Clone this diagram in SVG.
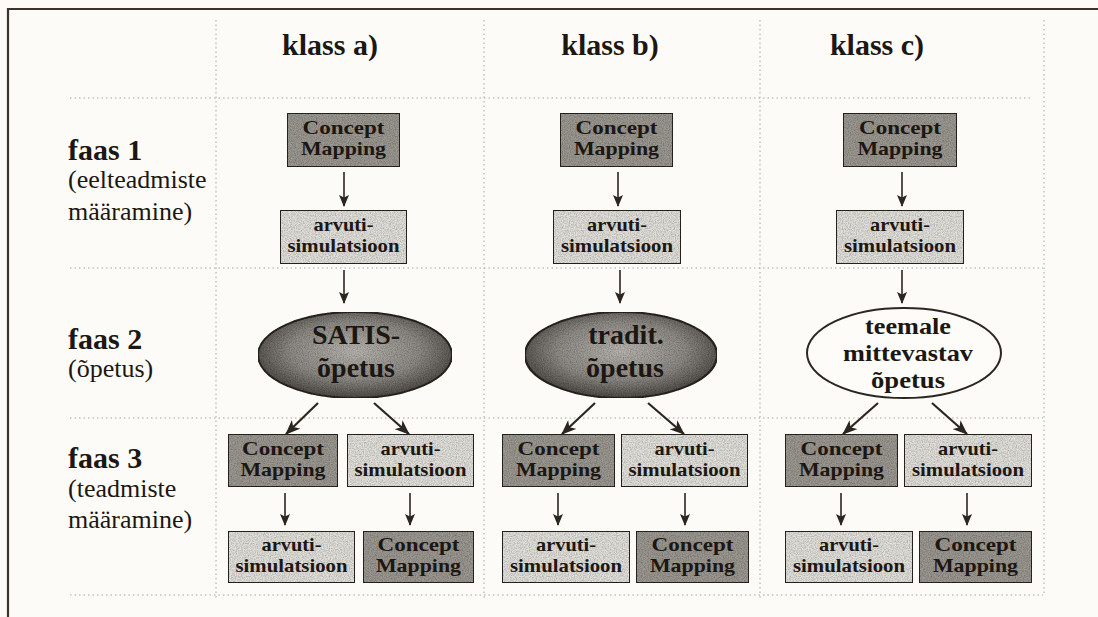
<svg xmlns="http://www.w3.org/2000/svg" width="1098" height="617" viewBox="0 0 1098 617">
<defs>
<style>
.bg{fill:#fcfbf7}
.frame{stroke:#3a342b;stroke-width:2.2;fill:none}
.grid{stroke:#aaa69c;stroke-width:1;stroke-dasharray:1.5 3;fill:none}
.dark{fill:#9b9791;stroke:#2b2620;stroke-width:2;filter:url(#grain)}
.light{fill:#e2e0db;stroke:#2b2620;stroke-width:2;filter:url(#grain)}
.ell{fill:url(#eg);stroke:#2b2620;stroke-width:2;filter:url(#grain)}
.ellw{fill:#fdfcf8;stroke:#2b2620;stroke-width:2}
.bt{font-family:"Liberation Serif","Times New Roman",serif;font-weight:bold;font-size:19px;fill:#1c1712;text-anchor:middle}
.et{font-family:"Liberation Serif","Times New Roman",serif;font-weight:bold;font-size:28px;fill:#1c1712;text-anchor:middle}
.et2{font-family:"Liberation Serif","Times New Roman",serif;font-weight:bold;font-size:23px;fill:#1c1712;text-anchor:middle}
.hd{font-family:"Liberation Serif","Times New Roman",serif;font-weight:bold;font-size:30px;fill:#1c1712;text-anchor:middle}
.ph{font-family:"Liberation Serif","Times New Roman",serif;font-weight:bold;font-size:30px;fill:#1c1712}
.sub{font-family:"Liberation Serif","Times New Roman",serif;font-size:26px;fill:#1c1712}
.arr{stroke:#2b2620;stroke-width:1.6;fill:none;marker-end:url(#ah)}
.arrd{stroke:#2b2620;stroke-width:2.2;fill:none;marker-end:url(#ahd)}
</style>
<radialGradient id="eg" cx="0.5" cy="0.45" r="0.55">
<stop offset="0" stop-color="#b8b5af"/>
<stop offset="0.6" stop-color="#8e8b86"/>
<stop offset="1" stop-color="#4e4a45"/>
</radialGradient>
<filter id="grain" x="0" y="0" width="100%" height="100%">
<feTurbulence type="fractalNoise" baseFrequency="0.85" numOctaves="2" seed="4" result="n"/>
<feColorMatrix in="n" type="matrix" values="0 0 0 0 0  0 0 0 0 0  0 0 0 0 0  0.9 0 0 0 -0.3" result="a"/>
<feComposite in="a" in2="SourceGraphic" operator="in" result="g"/>
<feMerge><feMergeNode in="SourceGraphic"/><feMergeNode in="g"/></feMerge>
</filter>
<marker id="ah" viewBox="0 0 12 10" refX="11" refY="5" markerWidth="12" markerHeight="10" orient="auto" markerUnits="userSpaceOnUse">
<path d="M0,0 L12,5 L0,10 L2.5,5 z" fill="#2b2620"/>
</marker>
<marker id="ahd" viewBox="0 0 15 12" refX="14" refY="6" markerWidth="15" markerHeight="12" orient="auto" markerUnits="userSpaceOnUse">
<path d="M0,0 L15,6 L0,12 L4,6 z" fill="#2b2620"/>
</marker>
</defs>

<rect class="bg" x="0" y="0" width="1098" height="617"/>

<g id="frame">
<line class="frame" x1="7" y1="9" x2="1098" y2="9"/>
<line class="frame" x1="8" y1="8" x2="8" y2="617"/>
</g>

<g id="grid">
<line class="grid" x1="70" y1="98" x2="1032" y2="98"/>
<line class="grid" x1="70" y1="268" x2="1043" y2="268"/>
<line class="grid" x1="70" y1="418" x2="1043" y2="418"/>
<line class="grid" x1="70" y1="595" x2="1043" y2="595"/>
<line class="grid" x1="216" y1="20" x2="216" y2="600"/>
<line class="grid" x1="484" y1="20" x2="484" y2="600"/>
<line class="grid" x1="760" y1="20" x2="760" y2="600"/>
<line class="grid" x1="1044" y1="20" x2="1044" y2="595"/>
</g>

<g id="headers">
<text class="hd" x="330" y="55">klass a)</text>
<text class="hd" x="610" y="55">klass b)</text>
<text class="hd" x="877" y="55">klass c)</text>
</g>

<g id="phase-labels">
<text class="ph" x="68" y="160">faas 1</text>
<text class="sub" x="68" y="188">(eelteadmiste</text>
<text class="sub" x="68" y="220">määramine)</text>
<text class="ph" x="68" y="349">faas 2</text>
<text class="sub" x="68" y="377">(õpetus)</text>
<text class="ph" x="68" y="468">faas 3</text>
<text class="sub" x="68" y="497">(teadmiste</text>
<text class="sub" x="68" y="528">määramine)</text>
</g>

<g id="connectors">
<line class="arr" x1="344" y1="172" x2="344" y2="206"/>
<line class="arr" x1="344" y1="270" x2="344" y2="303"/>
<line class="arrd" x1="318" y1="403" x2="286" y2="434"/>
<line class="arrd" x1="374" y1="403" x2="409" y2="434"/>
<line class="arr" x1="285" y1="493" x2="285" y2="525"/>
<line class="arr" x1="410" y1="493" x2="410" y2="525"/>

<line class="arr" x1="618" y1="172" x2="618" y2="206"/>
<line class="arr" x1="620" y1="270" x2="620" y2="303"/>
<line class="arrd" x1="595" y1="403" x2="562" y2="434"/>
<line class="arrd" x1="648" y1="403" x2="684" y2="434"/>
<line class="arr" x1="558" y1="493" x2="558" y2="525"/>
<line class="arr" x1="685" y1="493" x2="685" y2="525"/>

<line class="arr" x1="902" y1="172" x2="902" y2="206"/>
<line class="arr" x1="902" y1="270" x2="902" y2="303"/>
<line class="arrd" x1="878" y1="403" x2="843" y2="434"/>
<line class="arrd" x1="932" y1="403" x2="967" y2="434"/>
<line class="arr" x1="841" y1="493" x2="841" y2="525"/>
<line class="arr" x1="967" y1="493" x2="967" y2="525"/>
</g>

<!-- column a -->
<g id="a-cm1"><rect class="dark" x="287" y="113" width="113" height="54"/>
<text class="bt" x="343.5" y="134" textLength="82" lengthAdjust="spacingAndGlyphs">Concept</text><text class="bt" x="343.5" y="155" textLength="85" lengthAdjust="spacingAndGlyphs">Mapping</text></g>
<g id="a-sim1"><rect class="light" x="280" y="210" width="127" height="54"/>
<text class="bt" x="343.5" y="231" textLength="60" lengthAdjust="spacingAndGlyphs">arvuti-</text><text class="bt" x="343.5" y="252" textLength="112" lengthAdjust="spacingAndGlyphs">simulatsioon</text></g>
<g id="a-ell"><ellipse class="ell" cx="355" cy="355" rx="97" ry="43"/>
<text class="et" x="356" y="344">SATIS-</text><text class="et" x="356" y="377">õpetus</text></g>
<g id="a-cm2"><rect class="dark" x="228" y="434" width="110" height="53"/>
<text class="bt" x="283" y="455" textLength="82" lengthAdjust="spacingAndGlyphs">Concept</text><text class="bt" x="283" y="476" textLength="85" lengthAdjust="spacingAndGlyphs">Mapping</text></g>
<g id="a-sim2"><rect class="light" x="347" y="434" width="127" height="53"/>
<text class="bt" x="410.5" y="455" textLength="60" lengthAdjust="spacingAndGlyphs">arvuti-</text><text class="bt" x="410.5" y="476" textLength="112" lengthAdjust="spacingAndGlyphs">simulatsioon</text></g>
<g id="a-sim3"><rect class="light" x="228" y="531" width="127" height="52"/>
<text class="bt" x="291.5" y="551" textLength="60" lengthAdjust="spacingAndGlyphs">arvuti-</text><text class="bt" x="291.5" y="572" textLength="112" lengthAdjust="spacingAndGlyphs">simulatsioon</text></g>
<g id="a-cm3"><rect class="dark" x="363" y="531" width="111" height="52"/>
<text class="bt" x="418.5" y="551" textLength="82" lengthAdjust="spacingAndGlyphs">Concept</text><text class="bt" x="418.5" y="572" textLength="85" lengthAdjust="spacingAndGlyphs">Mapping</text></g>

<!-- column b -->
<g id="b-cm1"><rect class="dark" x="560" y="113" width="113" height="54"/>
<text class="bt" x="616.5" y="134" textLength="82" lengthAdjust="spacingAndGlyphs">Concept</text><text class="bt" x="616.5" y="155" textLength="85" lengthAdjust="spacingAndGlyphs">Mapping</text></g>
<g id="b-sim1"><rect class="light" x="553" y="210" width="128" height="54"/>
<text class="bt" x="617" y="231" textLength="60" lengthAdjust="spacingAndGlyphs">arvuti-</text><text class="bt" x="617" y="252" textLength="112" lengthAdjust="spacingAndGlyphs">simulatsioon</text></g>
<g id="b-ell"><ellipse class="ell" cx="621" cy="355" rx="96" ry="43"/>
<text class="et" x="626" y="344">tradit.</text><text class="et" x="625" y="377">õpetus</text></g>
<g id="b-cm2"><rect class="dark" x="502" y="434" width="113" height="53"/>
<text class="bt" x="558.5" y="455" textLength="82" lengthAdjust="spacingAndGlyphs">Concept</text><text class="bt" x="558.5" y="476" textLength="85" lengthAdjust="spacingAndGlyphs">Mapping</text></g>
<g id="b-sim2"><rect class="light" x="621" y="434" width="127" height="53"/>
<text class="bt" x="684.5" y="455" textLength="60" lengthAdjust="spacingAndGlyphs">arvuti-</text><text class="bt" x="684.5" y="476" textLength="112" lengthAdjust="spacingAndGlyphs">simulatsioon</text></g>
<g id="b-sim3"><rect class="light" x="502" y="531" width="128" height="52"/>
<text class="bt" x="566" y="551" textLength="60" lengthAdjust="spacingAndGlyphs">arvuti-</text><text class="bt" x="566" y="572" textLength="112" lengthAdjust="spacingAndGlyphs">simulatsioon</text></g>
<g id="b-cm3"><rect class="dark" x="636" y="531" width="113" height="52"/>
<text class="bt" x="692.5" y="551" textLength="82" lengthAdjust="spacingAndGlyphs">Concept</text><text class="bt" x="692.5" y="572" textLength="85" lengthAdjust="spacingAndGlyphs">Mapping</text></g>

<!-- column c -->
<g id="c-cm1"><rect class="dark" x="843" y="113" width="114" height="54"/>
<text class="bt" x="900" y="134" textLength="82" lengthAdjust="spacingAndGlyphs">Concept</text><text class="bt" x="900" y="155" textLength="85" lengthAdjust="spacingAndGlyphs">Mapping</text></g>
<g id="c-sim1"><rect class="light" x="836" y="210" width="128" height="54"/>
<text class="bt" x="900" y="231" textLength="60" lengthAdjust="spacingAndGlyphs">arvuti-</text><text class="bt" x="900" y="252" textLength="112" lengthAdjust="spacingAndGlyphs">simulatsioon</text></g>
<g id="c-ell"><ellipse class="ellw" cx="904" cy="353" rx="97" ry="45"/>
<text class="et2" x="908" y="334" textLength="86" lengthAdjust="spacingAndGlyphs">teemale</text><text class="et2" x="908" y="361" textLength="130" lengthAdjust="spacingAndGlyphs">mittevastav</text><text class="et2" x="908" y="388" textLength="74" lengthAdjust="spacingAndGlyphs">õpetus</text></g>
<g id="c-cm2"><rect class="dark" x="785" y="434" width="113" height="53"/>
<text class="bt" x="841.5" y="455" textLength="82" lengthAdjust="spacingAndGlyphs">Concept</text><text class="bt" x="841.5" y="476" textLength="85" lengthAdjust="spacingAndGlyphs">Mapping</text></g>
<g id="c-sim2"><rect class="light" x="904" y="434" width="128" height="53"/>
<text class="bt" x="968" y="455" textLength="60" lengthAdjust="spacingAndGlyphs">arvuti-</text><text class="bt" x="968" y="476" textLength="112" lengthAdjust="spacingAndGlyphs">simulatsioon</text></g>
<g id="c-sim3"><rect class="light" x="785" y="531" width="128" height="52"/>
<text class="bt" x="849" y="551" textLength="60" lengthAdjust="spacingAndGlyphs">arvuti-</text><text class="bt" x="849" y="572" textLength="112" lengthAdjust="spacingAndGlyphs">simulatsioon</text></g>
<g id="c-cm3"><rect class="dark" x="919" y="531" width="113" height="52"/>
<text class="bt" x="975.5" y="551" textLength="82" lengthAdjust="spacingAndGlyphs">Concept</text><text class="bt" x="975.5" y="572" textLength="85" lengthAdjust="spacingAndGlyphs">Mapping</text></g>
</svg>
